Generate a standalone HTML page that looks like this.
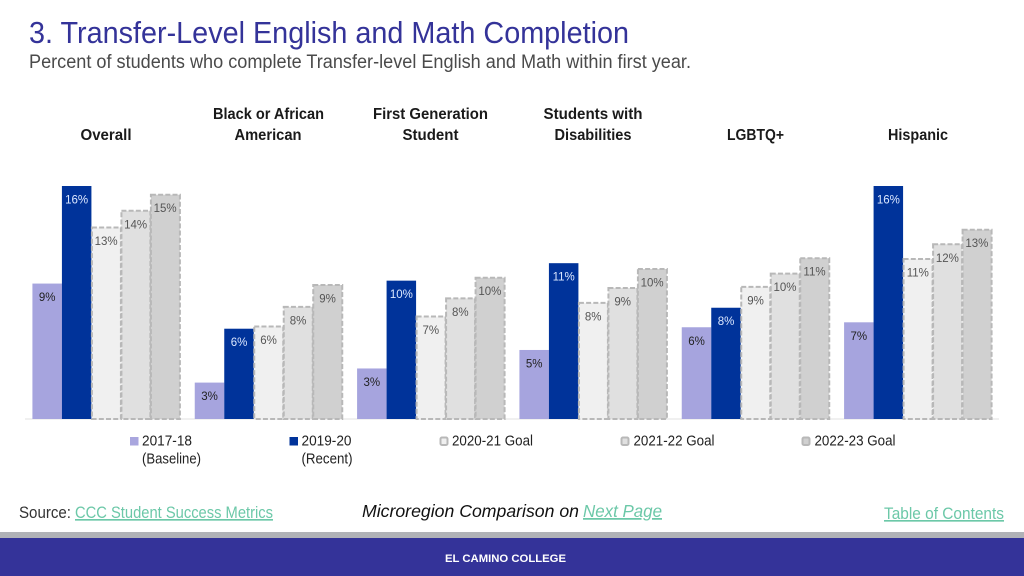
<!DOCTYPE html>
<html lang="en">
<head>
<meta charset="utf-8">
<title>Transfer-Level English and Math Completion</title>
<style>
html,body{margin:0;padding:0;background:#fff;width:1024px;height:576px;overflow:hidden}
svg{display:block}
text{font-family:"Liberation Sans",sans-serif}
.h{font-size:15.5px;font-weight:bold;fill:#1a1a1a;text-anchor:middle}
.l{font-size:14.5px;fill:#222}
.f{font-size:16.5px}
.lnk{fill:#6cc8a8;text-decoration:underline}
.m{font-size:17.5px}
</style>
</head>
<body>
<svg id="chart" xmlns="http://www.w3.org/2000/svg" width="1024" height="576" viewBox="0 0 1024 576">
  <rect x="0" y="0" width="1024" height="576" fill="#ffffff"/>

  <text x="29" y="43" font-size="31" fill="#343399" textLength="600" lengthAdjust="spacingAndGlyphs">3. Transfer-Level English and Math Completion</text>
  <text x="29" y="68" font-size="19" fill="#4a4a4a" textLength="662" lengthAdjust="spacingAndGlyphs">Percent of students who complete Transfer-level English and Math within first year.</text>

  <g id="headers">
    <text class="h" x="106" y="140" textLength="51" lengthAdjust="spacingAndGlyphs">Overall</text>
    <text class="h" x="268.500" y="119" textLength="111" lengthAdjust="spacingAndGlyphs">Black or African</text>
    <text class="h" x="268" y="140" textLength="67" lengthAdjust="spacingAndGlyphs">American</text>
    <text class="h" x="430.500" y="119" textLength="115" lengthAdjust="spacingAndGlyphs">First Generation</text>
    <text class="h" x="430.500" y="140" textLength="56" lengthAdjust="spacingAndGlyphs">Student</text>
    <text class="h" x="593" y="119" textLength="99" lengthAdjust="spacingAndGlyphs">Students with</text>
    <text class="h" x="593" y="140" textLength="77" lengthAdjust="spacingAndGlyphs">Disabilities</text>
    <text class="h" x="755.500" y="140" textLength="57" lengthAdjust="spacingAndGlyphs">LGBTQ+</text>
    <text class="h" x="918" y="140" textLength="60" lengthAdjust="spacingAndGlyphs">Hispanic</text>
  </g>

  <g id="plot"></g>

  <g id="legend">
    <rect x="130" y="437" width="8.500" height="8.500" fill="#a9a6de"/>
    <text class="l" x="142" y="445.500" textLength="50" lengthAdjust="spacingAndGlyphs">2017-18</text>
    <text class="l" x="142" y="463.500" textLength="59" lengthAdjust="spacingAndGlyphs">(Baseline)</text>

    <rect x="289.500" y="437" width="8.500" height="8.500" fill="#00339a"/>
    <text class="l" x="301.500" y="445.500" textLength="50" lengthAdjust="spacingAndGlyphs">2019-20</text>
    <text class="l" x="301.500" y="463.500" textLength="51" lengthAdjust="spacingAndGlyphs">(Recent)</text>

    <rect x="440.500" y="437.500" width="7" height="7.500" rx="1.500" fill="#f0f0f0" stroke="#b8b8b8" stroke-width="2"/>
    <text class="l" x="452" y="445.500" textLength="81" lengthAdjust="spacingAndGlyphs">2020-21 Goal</text>

    <rect x="621.500" y="437.500" width="7" height="7.500" rx="1.500" fill="#e0e0e0" stroke="#b8b8b8" stroke-width="2"/>
    <text class="l" x="633.500" y="445.500" textLength="81" lengthAdjust="spacingAndGlyphs">2021-22 Goal</text>

    <rect x="802.500" y="437.500" width="7" height="7.500" rx="1.500" fill="#d0d0d0" stroke="#b8b8b8" stroke-width="2"/>
    <text class="l" x="814.500" y="445.500" textLength="81" lengthAdjust="spacingAndGlyphs">2022-23 Goal</text>
  </g>

  <text class="f" x="19" y="518" fill="#333" textLength="52" lengthAdjust="spacingAndGlyphs">Source:</text>
  <a href="#"><text class="f lnk" x="75" y="518" textLength="198" lengthAdjust="spacingAndGlyphs">CCC Student Success Metrics</text></a>
  <text class="m" x="362" y="517" font-style="italic" fill="#111" textLength="217" lengthAdjust="spacingAndGlyphs">Microregion Comparison on</text>
  <a href="#"><text class="m lnk" x="583" y="517" font-style="italic" textLength="79" lengthAdjust="spacingAndGlyphs">Next Page</text></a>
  <a href="#"><text class="f lnk" x="884" y="519" textLength="120" lengthAdjust="spacingAndGlyphs">Table of Contents</text></a>

  <rect x="0" y="532" width="1024" height="6" fill="#b0b2b7"/>
  <rect x="0" y="538" width="1024" height="38" fill="#343399"/>
  <text x="505.500" y="562" font-size="11" font-weight="bold" fill="#ffffff" text-anchor="middle" textLength="121" lengthAdjust="spacingAndGlyphs">EL CAMINO COLLEGE</text>
</svg>

<script>
const categories = ['Overall', 'Black or African American', 'First Generation Student', 'Students with Disabilities', 'LGBTQ+', 'Hispanic'];
const baseline2017 = [9.3, 2.5, 3.47, 4.74, 6.3, 6.64];
const recent2019 = [16, 6.2, 9.5, 10.7, 7.64, 16];
const goal2020 = [13.15, 6.35, 7.04, 7.97, 9.07, 10.99];
const goal2021 = [14.3, 7.7, 8.28, 9.0, 9.98, 12];
const goal2022 = [15.4, 9.2, 9.7, 10.3, 11.04, 13];

const seriesNames = ['baseline-2017-18', 'recent-2019-20', 'goal-2020-21', 'goal-2021-22', 'goal-2022-23'];
const seriesValues = [baseline2017, recent2019, goal2020, goal2021, goal2022];
const seriesFills = ['#a6a4de', '#00339a', '#f0f0f0', '#e0e0e0', '#d0d0d0'];
const labelFills = ['#222222', '#dce8ff', '#555555', '#555555', '#555555'];

const NS = 'http://www.w3.org/2000/svg';
const plot = document.getElementById('plot');
const plotLeft = 25;
const plotRight = 999;
const baseY = 419;
const pxPerUnit = 233 / 16;
const groupW = (plotRight - plotLeft) / categories.length;
const barW = 29.5;

function yScale(v) { return baseY - v * pxPerUnit; }
function xScale(g, s) { return plotLeft + groupW * g + (groupW - barW * seriesNames.length) / 2 + barW * s; }

const axis = document.createElementNS(NS, 'line');
axis.setAttribute('x1', plotLeft);
axis.setAttribute('x2', plotRight);
axis.setAttribute('y1', baseY);
axis.setAttribute('y2', baseY);
axis.setAttribute('stroke', '#e2e2e2');
axis.setAttribute('stroke-width', '1');


plot.appendChild(axis);

categories.forEach(function (cat, g) {
  seriesNames.forEach(function (name, s) {
    const v = seriesValues[s][g];
    const x = xScale(g, s);
    const y = yScale(v);
    const r = document.createElementNS(NS, 'rect');
    const goal = s >= 2;
    r.setAttribute('x', goal ? x + 0.5 : x);
    r.setAttribute('y', y);
    r.setAttribute('width', goal ? barW - 0.5 : barW);
    r.setAttribute('height', baseY - y);
    r.setAttribute('fill', seriesFills[s]);
    if (goal) {
      r.setAttribute('stroke', '#b8b8b8');
      r.setAttribute('stroke-width', '2');
      r.setAttribute('stroke-dasharray', '5 2.2');
    }
    
    
    plot.appendChild(r);
  });
  seriesNames.forEach(function (name, s) {
    const v = seriesValues[s][g];
    const t = document.createElementNS(NS, 'text');
    t.setAttribute('x', xScale(g, s) + barW / 2);
    t.setAttribute('y', yScale(v) + 17.5);
    t.setAttribute('text-anchor', 'middle');
    t.setAttribute('font-size', '11.5');
    t.setAttribute('fill', labelFills[s]);
    
    
    t.textContent = Math.round(v) + '%';
    plot.appendChild(t);
  });
});
</script>
</body>
</html>
